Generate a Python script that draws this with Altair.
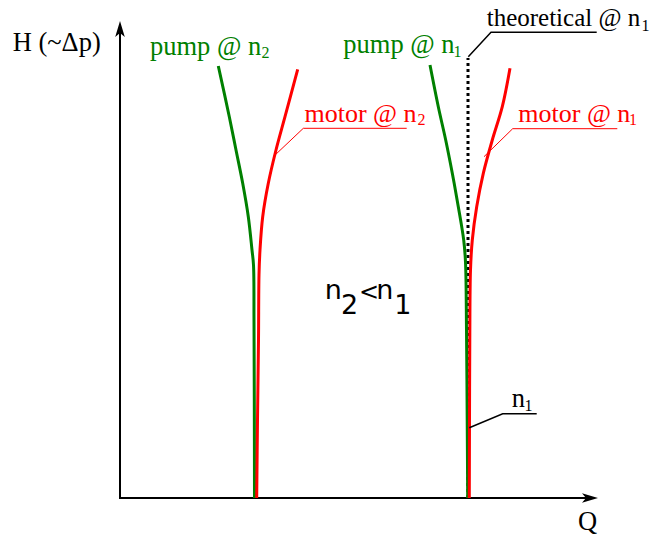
import altair as alt
import pandas as pd

# ---- curve data: Q (flow) and H (head), arbitrary units, origin at axes corner ----
pump_n2_Q = [98.3, 109.3, 116.0, 122.7, 128.3, 132.0, 133.5, 134.0, 134.3, 134.5]
pump_n2_H = [432.0, 381.3, 348.0, 314.7, 281.3, 248.0, 233.0, 178.0, 98.0, 0.0]
motor_n2_Q = [177.7, 165.0, 156.0, 148.3, 142.7, 140.0, 139.0, 138.5, 137.5, 136.7]
motor_n2_H = [428.7, 381.3, 348.0, 314.7, 281.3, 248.0, 223.0, 158.0, 78.0, 0.0]
pump_n1_Q = [310.0, 318.3, 325.7, 332.3, 338.3, 343.7, 345.5, 346.5, 347.2, 347.7]
pump_n1_H = [433.0, 391.3, 358.0, 324.7, 291.3, 258.0, 236.0, 168.0, 78.0, 0.0]
motor_n1_Q = [390.0, 382.3, 372.3, 363.3, 356.7, 352.3, 350.5, 349.8, 349.5, 349.3]
motor_n1_H = [429.7, 391.3, 358.0, 324.7, 291.3, 258.0, 228.0, 158.0, 78.0, 0.0]
theo_n1_Q = [348.0, 348.0]
theo_n1_H = [0.0, 440.0]

# axes extents (arrow tips)
axis_Q_end = 478
axis_H_end = 477

# leader lines
lead_motor_n2_Q = [153.3, 183.3, 286.7]
lead_motor_n2_H = [341.3, 369.7, 369.7]
lead_motor_n1_Q = [364.0, 392.7, 497.3]
lead_motor_n1_H = [341.3, 369.3, 369.3]
lead_theo_Q = [348.3, 371.0, 476.7]
lead_theo_H = [441.3, 465.7, 465.7]
lead_n1_Q = [349.3, 382.7, 416.7]
lead_n1_H = [70.3, 84.3, 84.3]

# text labels
green_text = ["pump @ n", "pump @ n"]
green_Q = [30.0, 223.3]
green_H = [443.0, 444.7]
green_sub = ["2", "1"]
green_sub_Q = [141.5, 333.5]
green_sub_H = [440.0, 441.0]

red_text = ["motor @ n", "motor @ n"]
red_Q = [184.5, 398.3]
red_H = [376.3, 376.3]
red_sub = ["2", "1"]
red_sub_Q = [297.5, 509.0]
red_sub_H = [373.0, 373.0]

black_text = ["n", "H (~Δp)", "Q"]
black_Q = [391.7, -107.3, 458.0]
black_H = [91.3, 447.0, -32.0]
black_sub = ["1", "1"]
black_sub_Q = [521.5, 404.5]
black_sub_H = [467.3, 87.3]
theo_text = ["theoretical @ n"]
theo_tQ = [366.7]
theo_tH = [472.0]

rel_text = ["n", "2", "n", "1"]
rel_Q = [204.8, 220.9, 256.3, 274.3]
rel_H = [198.7, 184.0, 198.7, 184.0]
rel_op = ["<"]
rel_op_Q = [239.0]
rel_op_H = [198.2]

GREEN = "#008000"
RED = "#ff0000"
BLACK = "#000000"

W, Hh = 643, 527
Q_DOMAIN = [-112, -112 + W]
H_DOMAIN = [490 - Hh, 490]

xs = alt.Scale(domain=Q_DOMAIN, nice=False, zero=False)
ys = alt.Scale(domain=H_DOMAIN, nice=False, zero=False)
X = lambda: alt.X("Q:Q", scale=xs, axis=None)
Y = lambda: alt.Y("H:Q", scale=ys, axis=None)


def series(name, qs, hs):
    return pd.DataFrame({"series": name, "i": range(len(qs)), "Q": qs, "H": hs})


def texts(t, q, h):
    return pd.DataFrame({"text": t, "Q": q, "H": h})


green_curves = pd.concat([series("pump n2", pump_n2_Q, pump_n2_H),
                          series("pump n1", pump_n1_Q, pump_n1_H)])
red_curves = pd.concat([series("motor n2", motor_n2_Q, motor_n2_H),
                        series("motor n1", motor_n1_Q, motor_n1_H)])
theo = series("theoretical n1", theo_n1_Q, theo_n1_H)

axes = pd.DataFrame({"Q": [0, 0], "H": [0, 0], "Q2": [0, axis_Q_end - 6], "H2": [axis_H_end - 6, 0]})
arrow_up = pd.DataFrame({"Q": [0], "H": [axis_H_end]})
arrow_right = pd.DataFrame({"Q": [axis_Q_end], "H": [0]})

red_leads = pd.concat([series("l_m2", lead_motor_n2_Q, lead_motor_n2_H),
                       series("l_m1", lead_motor_n1_Q, lead_motor_n1_H)])
black_leads = pd.concat([series("l_t", lead_theo_Q, lead_theo_H),
                         series("l_n1", lead_n1_Q, lead_n1_H)])

ARROW = "M0,0 L0.6,2 L0,1.5 L-0.6,2 Z"
SERIF = "Liberation Serif"


def txt(df, color, size, font=SERIF):
    return alt.Chart(df).mark_text(font=font, fontSize=size, align="left", baseline="alphabetic",
                                   color=color).encode(X(), Y(), text="text:N")


layers = [
    alt.Chart(theo).mark_line(color=BLACK, strokeWidth=3, strokeDash=[3, 3]).encode(X(), Y(), order="i:Q"),
    alt.Chart(axes).mark_rule(color=BLACK, strokeWidth=2, strokeCap="square").encode(
        X(), Y(), x2="Q2:Q", y2="H2:Q"),
    alt.Chart(arrow_up).mark_point(shape=ARROW, filled=True, size=256, opacity=1, color=BLACK,
                                   strokeWidth=0).encode(X(), Y()),
    alt.Chart(arrow_right).mark_point(shape=ARROW, filled=True, size=256, opacity=1, color=BLACK,
                                      strokeWidth=0, angle=90).encode(X(), Y()),
    alt.Chart(green_curves).mark_line(strokeWidth=3, color=GREEN, interpolate="catmull-rom").encode(
        X(), Y(), order="i:Q", detail="series:N"),
    alt.Chart(red_curves).mark_line(strokeWidth=3, color=RED, interpolate="catmull-rom").encode(
        X(), Y(), order="i:Q", detail="series:N"),
    alt.Chart(red_leads).mark_line(color=RED, strokeWidth=1).encode(X(), Y(), order="i:Q", detail="series:N"),
    alt.Chart(black_leads).mark_line(color=BLACK, strokeWidth=1.5).encode(X(), Y(), order="i:Q", detail="series:N"),
    txt(texts(green_text, green_Q, green_H), GREEN, 26.5),
    txt(texts(green_sub, green_sub_Q, green_sub_H), GREEN, 16),
    txt(texts(red_text, red_Q, red_H), RED, 26),
    txt(texts(red_sub, red_sub_Q, red_sub_H), RED, 16),
    txt(texts(black_text, black_Q, black_H), BLACK, 26.5),
    txt(texts(theo_text, theo_tQ, theo_tH), BLACK, 25),
    txt(texts(black_sub, black_sub_Q, black_sub_H), BLACK, 16),
    txt(texts(rel_text, rel_Q, rel_H), BLACK, 27, font="DejaVu Sans"),
    txt(texts(rel_op, rel_op_Q, rel_op_H), BLACK, 24, font="DejaVu Sans"),
]

chart = alt.layer(*layers).properties(
    width=W, height=Hh, padding=0, autosize=alt.AutoSizeParams(type="none"),
    background="white",
).configure_view(stroke=None)

chart.save("out.html", embed_options={"renderer": "svg", "actions": False})
